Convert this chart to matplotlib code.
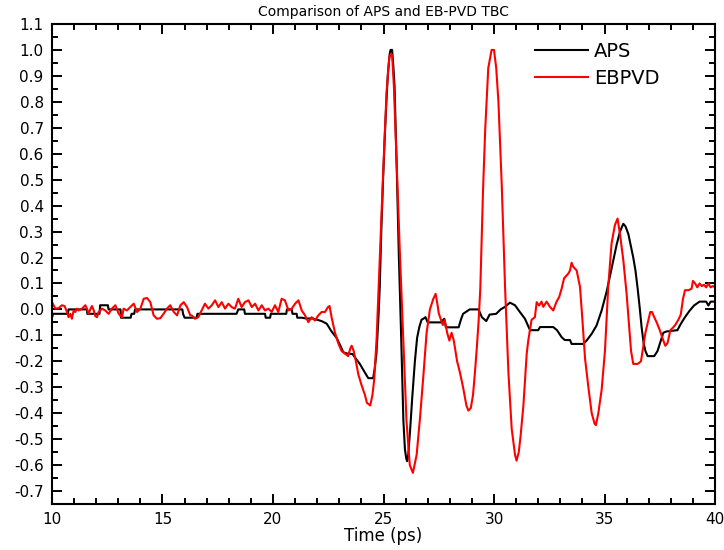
import matplotlib
matplotlib.use("Agg")
import matplotlib.pyplot as plt
from matplotlib.ticker import MultipleLocator

# APS trace (time in ps, normalised amplitude)
aps_t = [10.0, 10.05, 10.72, 10.75, 11.58, 11.6, 12.15, 12.18, 12.53, 12.56,
         13.1, 13.12, 13.56, 13.6, 13.72, 13.76, 15.9, 15.93, 16.0, 16.55,
         16.58, 18.35, 18.43, 18.7, 18.73, 19.64, 19.67, 19.87, 19.9, 20.6,
         20.63, 20.85, 20.88, 21.07, 21.1, 21.3, 21.5, 21.8, 22.0, 22.2,
         22.43, 22.65, 22.88, 23.05, 23.18, 23.35, 23.6, 23.75, 23.93, 24.1,
         24.31, 24.53, 24.6, 24.68, 24.76, 24.83, 24.9, 24.98, 25.06, 25.13,
         25.2, 25.28, 25.32, 25.39, 25.45, 25.5, 25.55, 25.6, 25.69, 25.8,
         25.9, 25.97, 26.03, 26.07, 26.12, 26.2, 26.3, 26.42, 26.52, 26.62,
         26.72, 26.8, 26.9, 27.0, 27.6, 27.75, 27.82, 28.4, 28.5, 28.6,
         28.9, 29.3, 29.45, 29.65, 29.8, 30.1, 30.3, 30.5, 30.72, 30.95,
         31.17, 31.4, 31.63, 31.75, 32.0, 32.08, 32.68, 32.85, 33.06, 33.2,
         33.44, 33.51, 34.04, 34.19, 34.42, 34.64, 34.87, 35.1, 35.25, 35.4,
         35.55, 35.7, 35.85, 35.95, 36.08, 36.2, 36.3, 36.4, 36.5,
         36.6, 36.68, 36.77, 36.85, 36.95, 37.25, 37.4, 37.55, 37.66, 37.8,
         38.3, 38.45, 38.64, 38.85, 39.05, 39.3, 39.6, 39.7, 39.8, 40.0]
aps_v = [-0.032, -0.017, -0.017, 0.0, 0.0, -0.017, -0.017, 0.016, 0.016, 0.0,
         0.0, -0.032, -0.032, -0.017, -0.017, 0.0, 0.0, -0.017, -0.032, -0.032,
         -0.017, -0.017, 0.0, 0.0, -0.017, -0.017, -0.032, -0.032, -0.017, -0.017,
         0.0, 0.0, -0.017, -0.017, -0.032, -0.032, -0.035, -0.035, -0.04, -0.045,
         -0.055, -0.085, -0.11, -0.14, -0.165, -0.17, -0.172, -0.19, -0.21, -0.235,
         -0.265, -0.265, -0.23, -0.17, -0.05, 0.086, 0.30, 0.50, 0.67, 0.80,
         0.91, 0.985, 1.0, 1.0, 0.93, 0.86, 0.70, 0.54, 0.22, -0.107,
         -0.43, -0.54, -0.575, -0.585, -0.56, -0.47, -0.34, -0.20, -0.11, -0.068,
         -0.04, -0.036, -0.03, -0.05, -0.05, -0.036, -0.069, -0.069, -0.04, -0.017,
         0.0, 0.0, -0.03, -0.045, -0.02, -0.017, 0.0, 0.01, 0.026, 0.016,
         -0.01, -0.036, -0.08, -0.08, -0.08, -0.068, -0.068, -0.08, -0.107, -0.118,
         -0.118, -0.133, -0.133, -0.12, -0.094, -0.062, -0.004, 0.07, 0.13, 0.19,
         0.25, 0.30, 0.33, 0.32, 0.29, 0.24, 0.20, 0.15, 0.08,
         0.0, -0.07, -0.13, -0.16, -0.18, -0.18, -0.16, -0.12, -0.09, -0.085,
         -0.08, -0.056, -0.03, -0.005, 0.015, 0.03, 0.03, 0.015, 0.03, 0.03]

# EB-PVD trace
ebpvd_t = [10.0, 10.15, 10.3, 10.45, 10.57, 10.68, 10.75, 10.83, 10.9, 10.98,
           11.06, 11.13, 11.21, 11.36, 11.51, 11.58, 11.66, 11.73, 11.81, 11.89,
           11.96, 12.04, 12.11, 12.26, 12.41, 12.56, 12.71, 12.87, 13.02, 13.17,
           13.24, 13.39, 13.54, 13.7, 13.85, 14.0, 14.15, 14.3, 14.45, 14.6,
           14.75, 14.9, 15.05, 15.2, 15.35, 15.51, 15.66, 15.81, 15.96, 16.11,
           16.26, 16.32, 16.47, 16.62, 16.77, 16.92, 17.08, 17.23, 17.38, 17.53,
           17.68, 17.83, 17.98, 18.13, 18.28, 18.43, 18.58, 18.73, 18.89, 19.04,
           19.19, 19.34, 19.49, 19.64, 19.79, 19.94, 20.09, 20.24, 20.39, 20.54,
           20.7, 20.85, 21.0, 21.15, 21.3, 21.45, 21.6, 21.75, 21.9, 22.05,
           22.2, 22.35, 22.5, 22.56, 22.65, 22.8, 22.95, 23.1, 23.25, 23.4,
           23.5, 23.56, 23.65, 23.75, 23.86, 24.0, 24.16, 24.25, 24.4, 24.5,
           24.58, 24.69, 24.84, 24.99, 25.14, 25.26, 25.33, 25.39, 25.47, 25.59,
           25.74, 25.89, 26.04, 26.19, 26.33, 26.5, 26.65, 26.8, 26.95, 27.1,
           27.25, 27.36, 27.44, 27.5, 27.6, 27.68, 27.77, 27.88, 27.98, 28.08,
           28.18, 28.33, 28.45, 28.6, 28.75, 28.84, 28.95, 29.05, 29.14, 29.22,
           29.3, 29.38, 29.5, 29.6, 29.74, 29.89, 30.0, 30.1, 30.2, 30.35,
           30.5, 30.65, 30.8, 30.95, 31.02, 31.12, 31.2, 31.33, 31.48, 31.55,
           31.7, 31.85, 31.93, 32.04, 32.15, 32.23, 32.38, 32.53, 32.68, 32.83,
           32.95, 33.06, 33.17, 33.36, 33.44, 33.51, 33.58, 33.74, 33.89,
           33.97, 34.12, 34.27, 34.42, 34.55, 34.61, 34.72, 34.87, 35.02,
           35.17, 35.32, 35.47, 35.59, 35.7, 35.85, 36.0, 36.1, 36.2, 36.3,
           36.5, 36.65, 36.75, 36.85, 36.98, 37.07, 37.15, 37.25, 37.36, 37.5,
           37.66, 37.75, 37.85, 37.98, 38.1, 38.2, 38.34, 38.45, 38.55, 38.64,
           38.8, 38.94, 39.0, 39.1, 39.2, 39.3, 39.4, 39.5, 39.6, 39.7,
           39.8, 39.9, 40.0]
ebpvd_v = [0.028, 0.003, 0.005, 0.016, 0.013, -0.01, -0.03, -0.017, -0.036, -0.004,
           -0.01, 0.003, -0.004, 0.003, 0.016, 0.003, -0.017, 0.0, 0.013, -0.004,
           -0.026, -0.03, -0.01, 0.003, -0.004, -0.017, 0.003, 0.016, -0.017, -0.03,
           0.003, -0.004, 0.009, 0.022, -0.01, 0.003, 0.041, 0.044, 0.028, -0.023,
           -0.036, -0.034, -0.017, 0.003, 0.016, -0.01, -0.023, 0.016, 0.028, 0.009,
           -0.023, -0.023, -0.036, -0.03, -0.004, 0.022, 0.003, 0.016, 0.035, 0.009,
           0.028, 0.003, 0.022, 0.009, 0.003, 0.041, 0.009, 0.028, 0.035, 0.009,
           0.022, -0.004, 0.016, -0.004, 0.003, -0.01, 0.016, -0.01, 0.041, 0.035,
           -0.004, 0.003, 0.022, 0.035, -0.004, -0.023, -0.049, -0.03, -0.043, -0.023,
           -0.01, -0.01, 0.01, 0.013, -0.03, -0.088, -0.13, -0.16, -0.17, -0.18,
           -0.15, -0.14, -0.16, -0.20, -0.25, -0.29, -0.33, -0.36, -0.37, -0.33,
           -0.27, -0.11, 0.22, 0.54, 0.84, 0.97, 0.985, 0.98, 0.86, 0.58,
           0.22, -0.107, -0.43, -0.60, -0.63, -0.56, -0.42, -0.26, -0.09, 0.0,
           0.04, 0.06, 0.02, -0.015, -0.04, -0.06, -0.04, -0.09, -0.12, -0.09,
           -0.12, -0.20, -0.24, -0.30, -0.37, -0.39, -0.38, -0.33, -0.24, -0.15,
           -0.05, 0.08, 0.45, 0.69, 0.93, 1.0, 1.0, 0.93, 0.80, 0.48,
           0.086, -0.24, -0.46, -0.56, -0.583, -0.55, -0.49, -0.37, -0.17, -0.12,
           -0.04, -0.03, 0.028, 0.015, 0.03, 0.01, 0.03, 0.01, -0.004, 0.03,
           0.048, 0.08, 0.12, 0.138, 0.15, 0.18, 0.165, 0.15, 0.087,
           -0.004, -0.19, -0.30, -0.40, -0.44, -0.446, -0.40, -0.31, -0.16,
           0.09, 0.255, 0.325, 0.35, 0.29, 0.19, 0.06, -0.05, -0.16, -0.21,
           -0.21, -0.20, -0.146, -0.09, -0.043, -0.01, -0.01, -0.03, -0.05, -0.08,
           -0.12, -0.14, -0.13, -0.08, -0.07, -0.06, -0.04, -0.02, 0.04, 0.074,
           0.074, 0.08, 0.11, 0.10, 0.085, 0.10, 0.09, 0.095, 0.085, 0.10,
           0.085, 0.09, 0.085]

fig = plt.figure(figsize=(7.24, 5.5), dpi=100)
ax = fig.add_axes([0.0718, 0.0836, 0.9158, 0.8728])

ax.plot(aps_t, aps_v, color='black', lw=1.5, label='APS')
ax.plot(ebpvd_t, ebpvd_v, color='red', lw=1.5, label='EBPVD')

ax.set_xlim(10, 40)
ax.set_ylim(-0.75, 1.1)
ax.xaxis.set_major_locator(MultipleLocator(5))
ax.xaxis.set_minor_locator(MultipleLocator(1))
ax.yaxis.set_major_locator(MultipleLocator(0.1))
ax.yaxis.set_minor_locator(MultipleLocator(0.05))
ax.yaxis.set_major_formatter(plt.FuncFormatter(lambda v, p: '%.1f' % v))

ax.tick_params(which='both', direction='in', top=True, right=True, width=1.4,
               labelsize=11)
ax.tick_params(which='major', length=7)
ax.tick_params(which='minor', length=4.5)
ax.tick_params(axis='x', pad=6)
ax.tick_params(axis='y', pad=6)
for s in ax.spines.values():
    s.set_linewidth(1.5)

ax.set_title('Comparison of APS and EB-PVD TBC', fontsize=10, pad=6)
ax.set_xlabel('Time (ps)', fontsize=12, labelpad=0)

ax.legend(loc='upper left', bbox_to_anchor=(0.729, 0.962), frameon=False,
          fontsize=14, handlelength=2.7, handletextpad=0.3, labelspacing=0.4,
          borderpad=0, borderaxespad=0)

fig.savefig('out.png', dpi=100)
